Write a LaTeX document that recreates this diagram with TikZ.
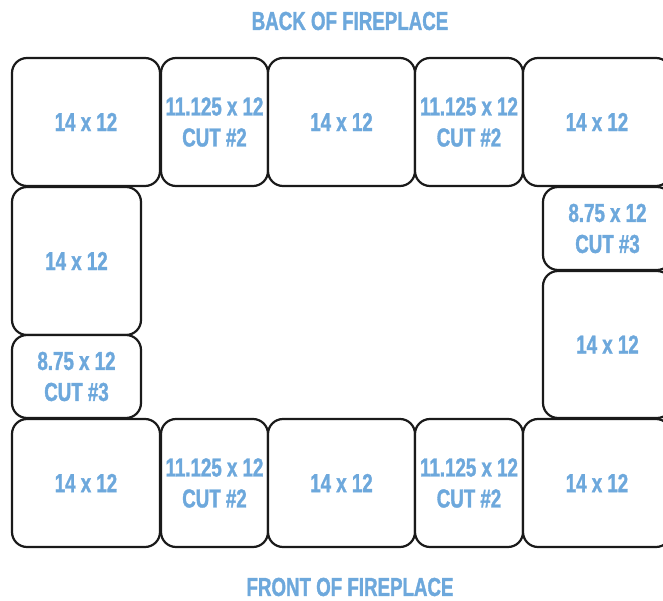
\documentclass[tikz,border=0pt]{standalone}
\usepackage{fontspec}
\newfontfamily\lblfont[FakeStretch=0.72,FakeBold=1.3]{Liberation Sans Bold}
\definecolor{lblblue}{HTML}{6DA8DC}
\definecolor{edge}{HTML}{1A1A1A}
\tikzset{
  tile/.style={draw=edge, line width=2.2pt, rounded corners=15pt, fill=white,
    inner sep=0pt, align=center, text=lblblue,
    font=\lblfont\fontsize{26}{31}\selectfont},
  heading/.style={inner sep=0pt, text=lblblue, font=\lblfont\fontsize{26}{31}\selectfont}
}
\begin{document}
\begin{tikzpicture}[x=1pt,y=-1pt]
\useasboundingbox (0,0) rectangle (663,601);
\fill[white] (0,0) rectangle (663,601);
\clip (0,0) rectangle (663,601);
% top row
\node[tile, minimum width=148pt, minimum height=128pt] (t1) at (86,122) {14 x 12};
\node[tile, minimum width=107pt, minimum height=128pt] (t2) at (214.5,122) {11.125 x 12\\CUT \#2};
\node[tile, minimum width=147pt, minimum height=128pt] (t3) at (341.5,122) {14 x 12};
\node[tile, minimum width=108pt, minimum height=128pt] (t4) at (469,122) {11.125 x 12\\CUT \#2};
\node[tile, minimum width=148pt, minimum height=128pt] (t5) at (597,122) {14 x 12};
% left column
\node[tile, minimum width=129pt, minimum height=148pt] (l1) at (76.5,261) {14 x 12};
\node[tile, minimum width=129pt, minimum height=83pt] (l2) at (76.5,376.5) {8.75 x 12\\CUT \#3};
% right column
\node[tile, minimum width=129pt, minimum height=83pt] (r1) at (607.5,228.5) {8.75 x 12\\CUT \#3};
\node[tile, minimum width=129pt, minimum height=147pt] (r2) at (607.5,344.5) {14 x 12};
% bottom row
\node[tile, minimum width=148pt, minimum height=128pt] (b1) at (86,483) {14 x 12};
\node[tile, minimum width=107pt, minimum height=128pt] (b2) at (214.5,483) {11.125 x 12\\CUT \#2};
\node[tile, minimum width=147pt, minimum height=128pt] (b3) at (341.5,483) {14 x 12};
\node[tile, minimum width=108pt, minimum height=128pt] (b4) at (469,483) {11.125 x 12\\CUT \#2};
\node[tile, minimum width=148pt, minimum height=128pt] (b5) at (597,483) {14 x 12};
% headings
\node[heading] (back) at (350,21) {BACK OF FIREPLACE};
\node[heading] (front) at (350,587) {FRONT OF FIREPLACE};
\end{tikzpicture}
\end{document}
